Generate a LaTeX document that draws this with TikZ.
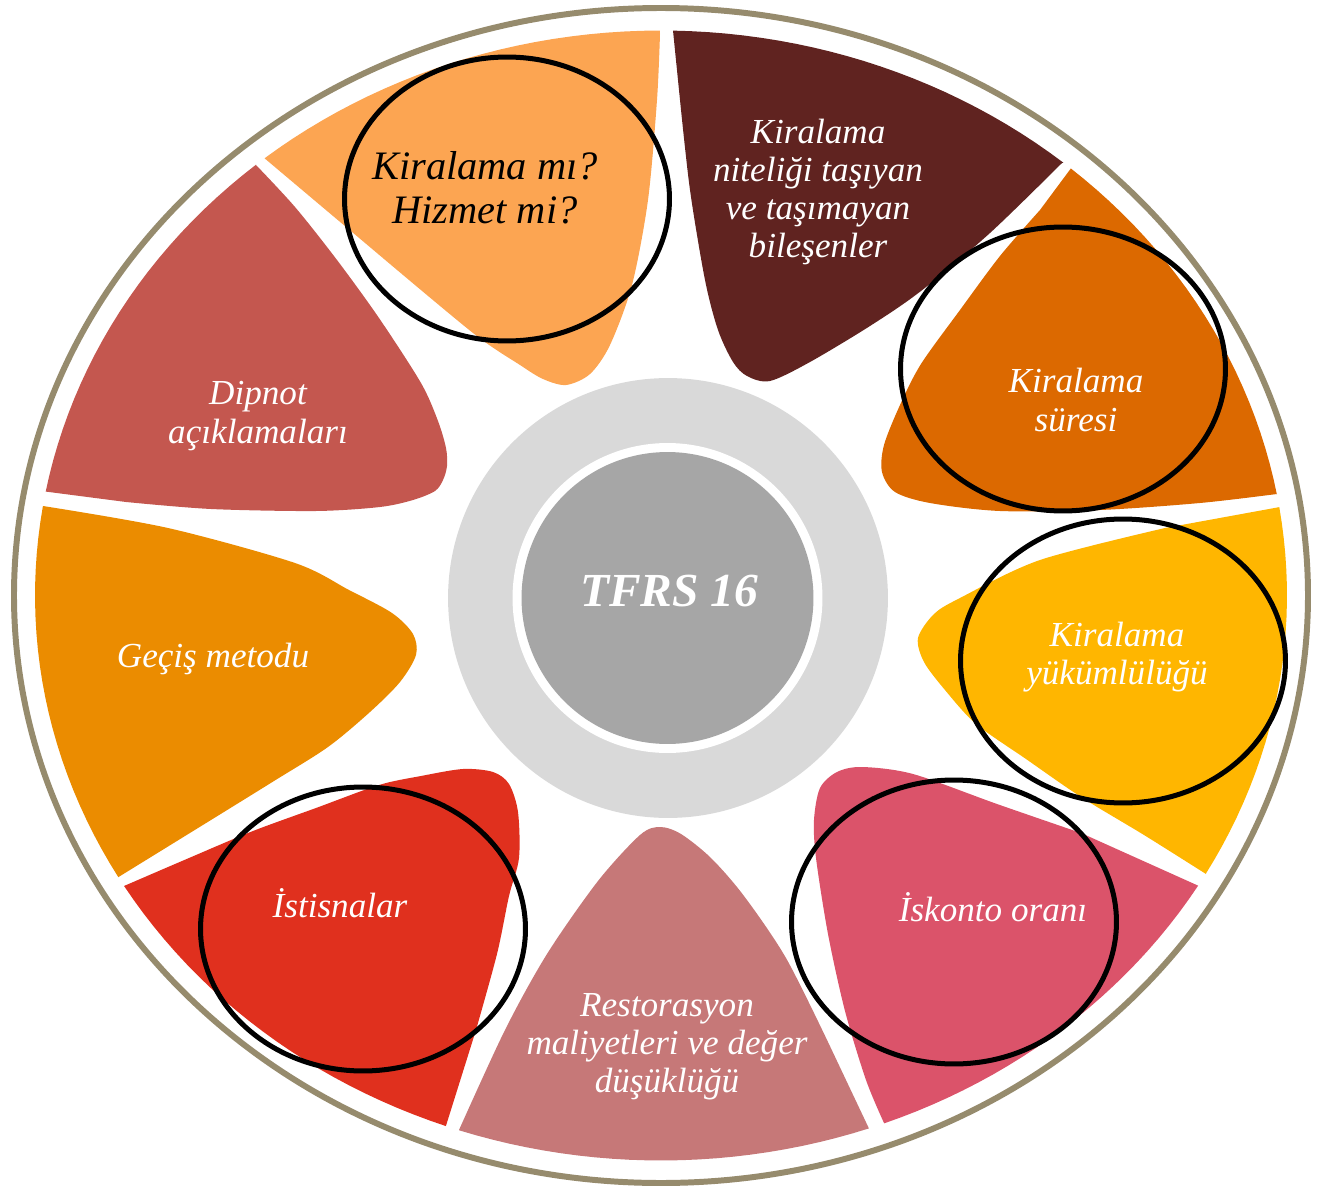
\documentclass[tikz,border=0pt]{standalone}
\usepackage{fontspec}
\setmainfont{Liberation Serif}
\usepackage{tikz}
\usetikzlibrary{shapes.geometric}

\definecolor{rim}{HTML}{968B6D}
\definecolor{petA}{HTML}{FCA552}
\definecolor{petI}{HTML}{602320}
\definecolor{petH}{HTML}{DC6900}
\definecolor{petG}{HTML}{FFB600}
\definecolor{petF}{HTML}{DB536A}
\definecolor{petE}{HTML}{C67878}
\definecolor{petD}{HTML}{E0301E}
\definecolor{petC}{HTML}{EB8C00}
\definecolor{petB}{HTML}{C4574F}
\definecolor{hubring}{HTML}{D9D9D9}
\definecolor{hubcore}{HTML}{A6A6A6}

\begin{document}
\begin{tikzpicture}[x=0.02cm,y=-0.02cm]
\tikzstyle{lbl}=[text=white, align=center, inner sep=0pt, font=\fontsize{20}{21.7}\selectfont\itshape]
\tikzstyle{halo}=[draw=black, line width=2.85pt, ellipse, inner sep=0pt, minimum width=6.5cm, minimum height=5.68cm]
\useasboundingbox (0,0) rectangle (1320,1190);

% outer rim
\draw[rim, line width=3.4pt] (661,595.5) ellipse [x radius=647, y radius=587.5];

% petals
\fill[petA] plot[variable=\t, domain=129.3:90.1, samples=25] ({661+626*cos(\t)},{595.5-565*sin(\t)})
  -- plot[smooth] coordinates {(660,34) (657,100) (648,200) (632,285) (610,345) (590,374) (566,385) (543,379) (520,365) (473,333) (371,248)} -- cycle;
\fill[petI] plot[variable=\t, domain=88.9:50.0, samples=25] ({661+626*cos(\t)},{595.5-565*sin(\t)})
  -- plot[smooth] coordinates {(1062,163) (990,233) (921,291) (870,326) (810,362) (770,381) (747,376) (733,362) (718,330) (705,280) (690,190) (680,100)} -- cycle;
\fill[petH] plot[variable=\t, domain=49.1:10.3, samples=25] ({661+626*cos(\t)},{595.5-565*sin(\t)})
  -- plot[smooth] coordinates {(1277,494) (1200,503) (1100,510) (1000,511) (930,503) (895,492) (882,472) (884,445) (900,405) (921,364) (960,310) (1000,256) (1040,210)} -- cycle;
\fill[petG] plot[variable=\t, domain=9.0:-29.5, samples=25] ({661+626*cos(\t)},{595.5-565*sin(\t)})
  -- plot[smooth] coordinates {(1206,874) (1144,835) (1081,797) (1026,759) (976,724) (945,690) (924,662) (918,638) (934,614) (960,598) (1040,560) (1165,528)} -- cycle;
\fill[petF] plot[variable=\t, domain=-30.9:-69.1, samples=25] ({661+626*cos(\t)},{595.5-565*sin(\t)})
  -- plot[smooth] coordinates {(884,1123) (866,1080) (845,1011) (828,934) (816,858) (814,820) (820,788) (837,772) (862,767) (913,774) (997,804) (1081,833)} -- cycle;
\fill[petE] plot[variable=\t, domain=-70.6:-108.8, samples=25] ({661+626*cos(\t)},{595.5-565*sin(\t)})
  -- plot[smooth] coordinates {(459,1130) (505,1030) (547,954) (598,881) (640,835) (660,827) (681,834) (711,858) (744,896) (786,958) (828,1042)} -- cycle;
\fill[petD] plot[variable=\t, domain=-110.1:-149.0, samples=25] ({661+626*cos(\t)},{595.5-565*sin(\t)})
  -- plot[smooth] coordinates {(124,886) (189,858) (253,831) (316,808) (379,785) (421,776) (463,769) (493,772) (509,784) (518,812) (519,858) (509,896) (497,954) (476,1030)} -- cycle;
\fill[petC] plot[variable=\t, domain=-150.1:-189.1, samples=25] ({661+626*cos(\t)},{595.5-565*sin(\t)})
  -- plot[smooth] coordinates {(43,506) (168,528) (295,563) (349,590) (392,613) (413,634) (416,655) (400,682) (370,712) (328,747) (274,781) (211,820)} -- cycle;
\fill[petB] plot[variable=\t, domain=169.4:130.3, samples=25] ({661+626*cos(\t)},{595.5-565*sin(\t)})
  -- plot[smooth] coordinates {(256,165) (295,207) (337,260) (379,318) (421,383) (438,421) (446,448) (447,466) (443,480) (435,491) (413,500) (380,507) (316,511) (211,509) (126,502)} -- cycle;

% hub
\node[circle, fill=hubring, minimum size=8.8cm, inner sep=0pt] (hub) at (668,598) {};
\node[circle, fill=white, minimum size=6.2cm, inner sep=0pt] (hubedge) at (667.5,598) {};
\node[circle, fill=hubcore, minimum size=5.84cm, inner sep=0pt] (hubcore) at (667.5,598) {};
\node[text=white, inner sep=0pt, font=\fontsize{27}{30}\selectfont\bfseries\itshape] (tfrs) at (669,591) {TFRS 16};

% highlight rings
\node[halo] (hsoru) at (507,199) {};
\node[halo] (hsure) at (1063,369) {};
\node[halo] (hyuk) at (1123,661) {};
\node[halo] (hisk) at (954,922) {};
\node[halo] (hist) at (363,929) {};

% labels
\node[lbl, text=black, font=\fontsize{23}{25}\selectfont\itshape] (soru) at (485,188) {Kiralama mı?\\Hizmet mi?};
\node[lbl] (nitelik) at (818,192) {Kiralama\\niteliği taşıyan\\ve taşımayan\\bileşenler};
\node[lbl] (sure) at (1076,400) {Kiralama\\süresi};
\node[lbl] (yuk) at (1117,657) {Kiralama\\yükümlülüğü};
\node[lbl] (isk) at (993,907) {İskonto oranı};
\node[lbl] (resto) at (667,1047) {Restorasyon\\maliyetleri ve değer\\düşüklüğü};
\node[lbl] (ist) at (340,903) {İstisnalar};
\node[lbl] (gecis) at (213,659) {Geçiş metodu};
\node[lbl] (dipnot) at (258,416) {Dipnot\\açıklamaları};
\end{tikzpicture}
\end{document}
